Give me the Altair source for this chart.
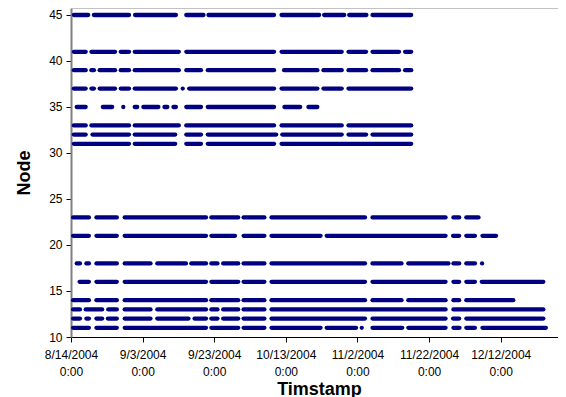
import altair as alt
import pandas as pd

# Segments of continuous readings per node, as (start_day, end_day) offsets from 8/14/2004 0:00
base_date = "2004-08-14"
nodes = [45, 41, 39, 37, 35, 33, 32, 31, 23, 21, 18, 16, 14, 13, 12, 11]

node_45 = [(0.8, 4.8), (6.4, 16.2), (17.9, 29.3), (32.2, 37.0), (38.4, 56.7), (58.8, 69.3), (70.7, 76.3), (77.7, 82.5), (84.2, 95.0)]
node_41 = [(0.8, 4.1), (5.7, 12.3), (13.9, 16.2), (17.8, 30.1), (32.2, 56.7), (58.8, 75.6), (77.5, 82.4), (84.2, 91.6), (93.3, 95.0)]
node_39 = [(0.8, 4.1), (5.7, 6.4), (8.0, 12.3), (13.9, 16.2), (17.8, 30.1), (32.2, 36.3), (38.2, 56.7), (59.5, 68.8), (70.5, 75.6), (77.5, 82.4), (84.2, 91.6), (93.3, 95.0)]
node_37 = [(0.8, 4.1), (5.7, 6.4), (8.0, 12.3), (13.9, 16.2), (17.8, 29.3), (31.2, 31.2), (33.0, 56.7), (58.8, 68.8), (70.5, 75.6), (77.5, 95.0)]
node_35 = [(1.6, 4.1), (8.9, 11.5), (14.6, 14.6), (17.8, 18.5), (20.2, 24.4), (26.1, 26.9), (28.6, 29.3), (32.2, 36.3), (38.2, 56.7), (59.6, 64.0), (66.3, 68.8)]
node_33 = [(0.8, 4.1), (5.7, 16.2), (17.8, 30.1), (32.2, 56.7), (58.8, 75.6), (77.5, 95.0)]
node_32 = [(0.8, 4.1), (6.0, 16.2), (17.8, 29.1), (32.2, 36.3), (38.2, 57.3), (59.0, 75.6), (77.5, 82.4), (84.2, 95.0)]
node_31 = [(0.8, 16.2), (17.8, 29.1), (32.2, 36.3), (38.2, 56.7), (58.8, 95.0)]
node_23 = [(0.6, 5.0), (7.1, 12.8), (15.0, 37.7), (39.2, 46.7), (48.2, 54.0), (56.0, 82.1), (84.2, 104.6), (106.8, 108.4), (110.4, 113.8)]
node_21 = [(0.6, 5.0), (7.1, 12.8), (15.0, 37.7), (39.2, 45.8), (48.2, 54.0), (56.0, 69.7), (71.4, 104.6), (106.7, 108.4), (110.4, 112.8), (114.9, 118.7)]
node_18 = [(1.6, 2.5), (4.3, 5.0), (7.1, 12.8), (15.0, 22.2), (24.1, 32.1), (33.6, 37.7), (39.2, 40.9), (42.5, 46.7), (48.2, 54.0), (56.0, 82.1), (84.2, 92.3), (94.2, 105.4), (106.8, 108.4), (110.4, 112.8), (114.8, 114.8)]
node_16 = [(2.4, 5.0), (7.1, 12.8), (15.0, 37.7), (39.2, 46.7), (48.2, 54.0), (56.0, 82.1), (84.2, 104.6), (106.8, 108.4), (110.4, 112.8), (114.7, 131.9)]
node_14 = [(0.6, 5.0), (7.1, 12.8), (15.0, 37.7), (39.2, 46.7), (48.2, 54.0), (56.0, 82.1), (84.2, 92.3), (94.2, 104.6), (106.8, 108.4), (110.4, 123.5)]
node_13 = [(0.6, 2.5), (4.1, 8.7), (10.4, 12.8), (15.0, 22.2), (24.1, 37.7), (39.2, 40.9), (42.5, 46.7), (48.2, 54.0), (56.0, 104.6), (106.8, 131.9)]
node_12 = [(0.6, 2.5), (4.3, 5.0), (7.1, 8.7), (10.3, 12.8), (15.0, 22.2), (24.1, 32.8), (34.5, 37.7), (39.2, 40.9), (42.5, 46.7), (48.2, 54.0), (56.0, 82.1), (84.2, 104.6), (106.7, 108.4), (110.4, 131.9)]
node_11 = [(0.6, 5.0), (7.1, 12.8), (15.0, 37.7), (39.2, 46.7), (48.2, 54.0), (56.0, 69.7), (71.4, 79.6), (81.2, 81.2), (84.2, 92.5), (94.2, 104.6), (106.8, 108.5), (110.4, 112.8), (114.9, 132.6)]

segments = [node_45, node_41, node_39, node_37, node_35, node_33, node_32, node_31,
            node_23, node_21, node_18, node_16, node_14, node_13, node_12, node_11]

x_tick_dates = ["2004-08-14", "2004-09-03", "2004-09-23", "2004-10-13", "2004-11-02", "2004-11-22", "2004-12-12"]
y_ticks = [10, 15, 20, 25, 30, 35, 40, 45]

rows = []
b = pd.Timestamp(base_date)
for n, segs in zip(nodes, segments):
    for s, e in segs:
        rows.append({
            "node": n,
            "start": (b + pd.to_timedelta(s, unit="D")).strftime("%Y-%m-%dT%H:%M:%S"),
            "end": (b + pd.to_timedelta(e, unit="D")).strftime("%Y-%m-%dT%H:%M:%S"),
        })
df = pd.DataFrame(rows)

W, H = 487, 329
FONT = "Liberation Sans"

x_values = [alt.DateTime(year=int(d[:4]), month=int(d[5:7]), date=int(d[8:10])) for d in x_tick_dates]

segs_chart = alt.Chart(df).mark_rule(
    color="#000080", strokeWidth=4.3, strokeCap="round"
).encode(
    x=alt.X(
        "start:T",
        scale=alt.Scale(domain=[alt.DateTime(year=2004, month=8, date=14),
                                alt.DateTime(year=2004, month=12, date=28)], nice=False),
        axis=alt.Axis(
            values=x_values,
            labelExpr="[timeFormat(datum.value, '%-m/%-d/%Y'), '0:00']",
            labelLineHeight=17,
            labelFontSize=12,
            labelColor="#000000",
            labelFont=FONT,
            labelPadding=7,
            labelAngle=0,
            labelOverlap=False,
            labelFlush=False,
            tickSize=5,
            tickColor="#000000",
            domainColor="#000000",
            domainWidth=1,
            grid=False,
            title="Timstamp",
            titleFont=FONT,
            titleFontSize=18,
            titleFontWeight="bold",
            titleColor="#000000",
            titlePadding=3,
            titleX=248,
        ),
    ),
    x2="end:T",
    y=alt.Y(
        "node:Q",
        scale=alt.Scale(domain=[10, 45.76], nice=False, zero=False),
        axis=alt.Axis(
            values=y_ticks,
            labelFontSize=12,
            labelColor="#000000",
            labelFont=FONT,
            labelPadding=4,
            tickSize=5,
            tickColor="#000000",
            domainColor="#808080",
            domainWidth=2,
            grid=False,
            title="Node",
            titleFont=FONT,
            titleFontSize=18,
            titleFontWeight="bold",
            titleColor="#000000",
            titlePadding=15,
        ),
    ),
)

top_border = alt.Chart(pd.DataFrame({"k": [0]})).mark_rule(
    color="#b8b8b8", strokeWidth=1.5
).encode(y=alt.value(0), x=alt.value(0), x2=alt.value(W))

chart = alt.layer(segs_chart, top_border).properties(
    width=W,
    height=H,
    autosize=alt.AutoSizeParams(type="none"),
    padding={"left": 63, "top": 0, "right": 0, "bottom": 62},
).configure_view(stroke=None).configure(background="white")

chart.save("out.html", embed_options={"renderer": "svg", "actions": False})
